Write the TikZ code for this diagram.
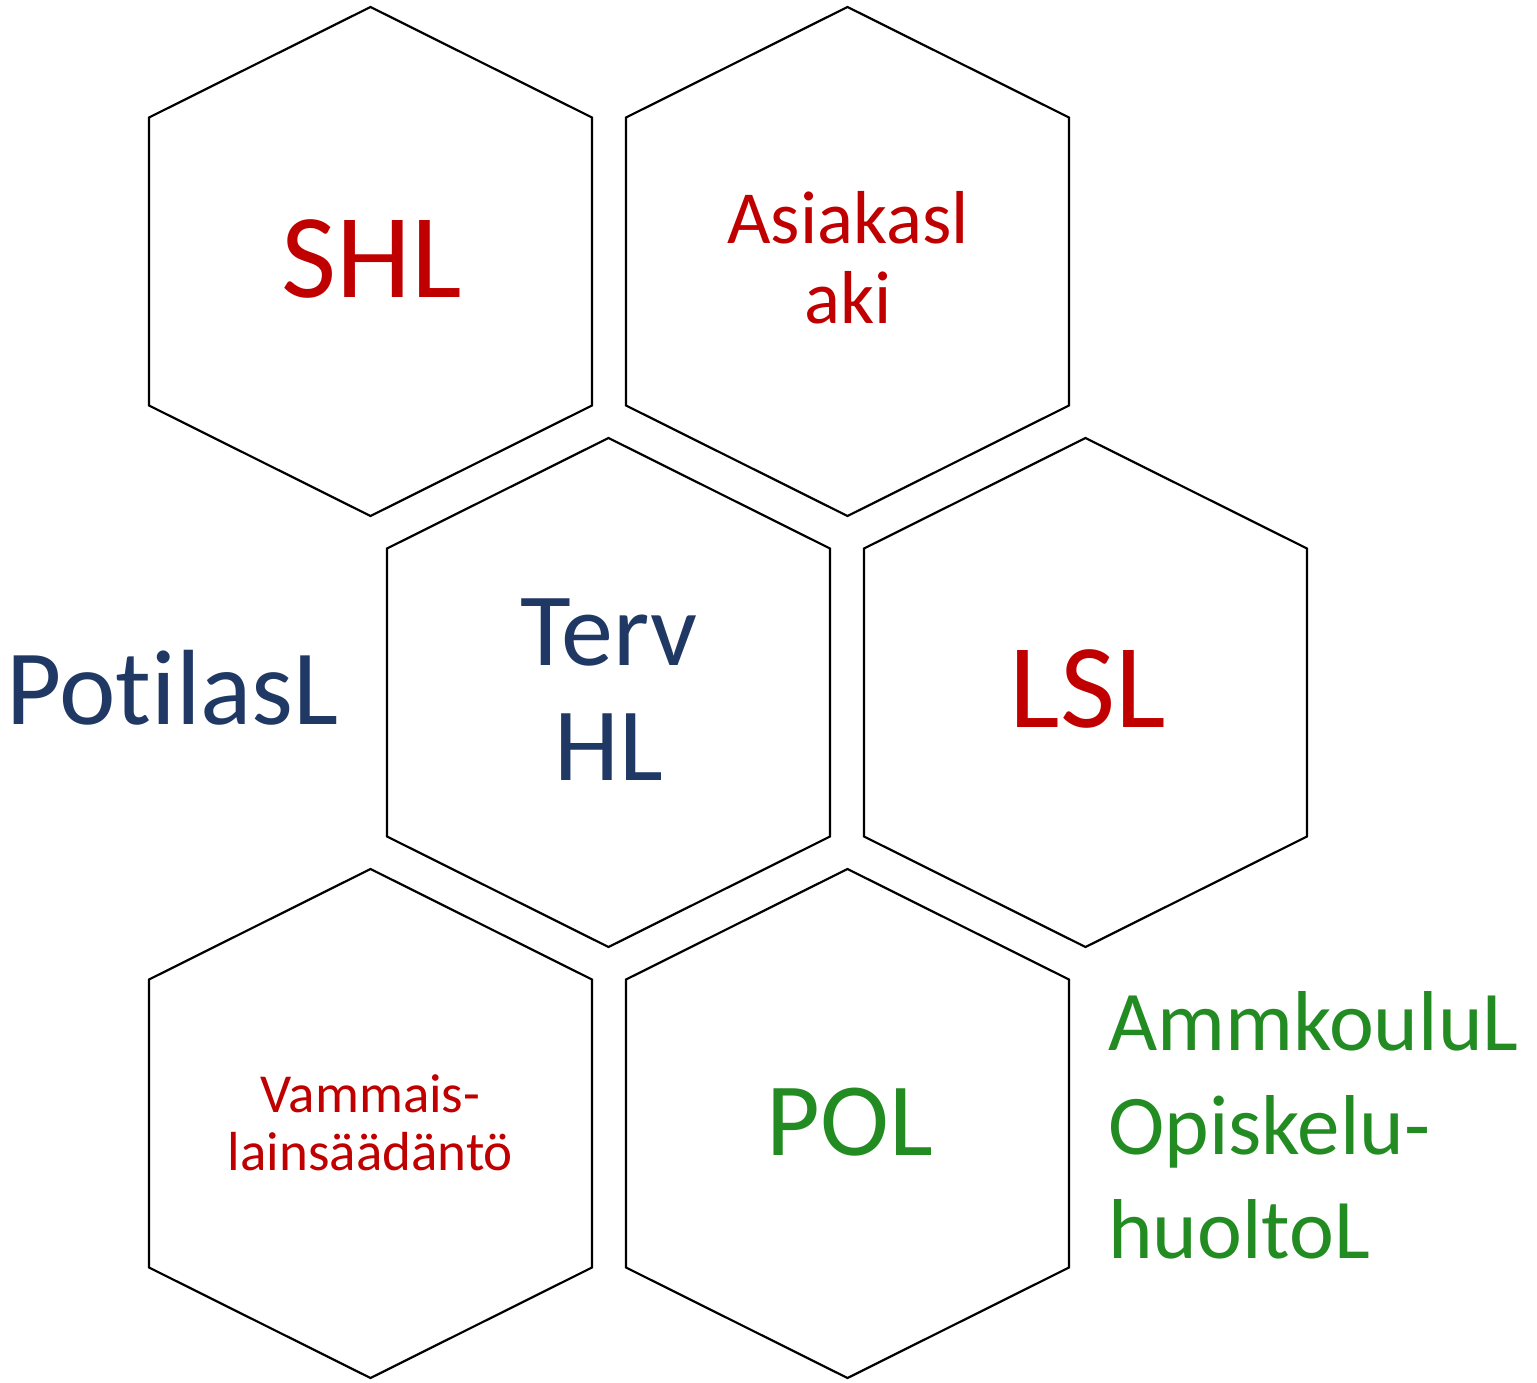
\documentclass[tikz,border=0pt]{standalone}
\usepackage{fontspec}
\setmainfont{Carlito}[Ligatures={NoCommon}]
\usepackage{tikz}
\definecolor{lawred}{HTML}{C00000}
\definecolor{lawblue}{HTML}{203864}
\definecolor{lawgreen}{HTML}{228B22}
\tikzstyle{hexa}=[line width=2.2pt, color=black, line join=miter]
\tikzstyle{lbl}=[inner sep=0pt, anchor=base, align=center]
\tikzstyle{red}=[lbl, color=lawred]
\tikzstyle{blue}=[lbl, color=lawblue]
\tikzstyle{green}=[lbl, color=lawgreen]
\begin{document}
\begin{tikzpicture}[x=1pt, y=-1pt]
			\useasboundingbox (0,0) rectangle (1537,1383);
			% draw the hexagons, using a loop
			\foreach \x/\y in {370.5/261.5, 847.5/261.5, 608.5/692.5, 1085.5/692.5, 370.5/1123.5, 847.5/1123.5}{
				\draw[hexa] (\x, \y-254.5) -- (\x+221.5, \y-144) -- (\x+221.5, \y+144) -- (\x, \y+254.5) -- (\x-221.5, \y+144) -- (\x-221.5, \y-144) -- cycle;
			}
			% labels inside the hexagons (base = last line)
			\node[red, font=\fontsize{120}{130}\selectfont] (shl) at (371.5,297) {SHL};
			\node[red, font=\fontsize{75}{80}\selectfont] (asiakas) at (848,323) {Asiakasl\\aki};
			\node[blue, font=\fontsize{104}{115}\selectfont] (terv) at (609,780) {Terv\\HL};
			\node[red, font=\fontsize{120}{130}\selectfont] (lsl) at (1088,727) {LSL};
			\node[red, font=\fontsize{55}{58}\selectfont] (vammais) at (370.5,1170) {Vammais-\\lainsäädäntö};
			\node[green, font=\fontsize{104}{115}\selectfont] (pol) at (850,1155) {POL};
			% labels outside
			\node[blue, anchor=base west, font=\fontsize{107}{115}\selectfont] (potilas) at (6,724) {PotilasL};
			\node[green, anchor=base west, align=left, font=\fontsize{85}{104}\selectfont] (ammkoulu) at (1108,1258) {AmmkouluL\\Opiskelu-\\huoltoL};
		\end{tikzpicture}
\end{document}
